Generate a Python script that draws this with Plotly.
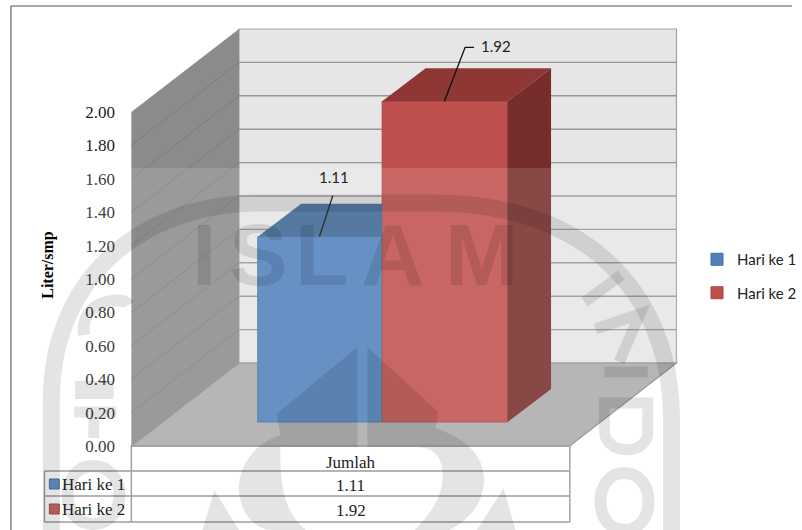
import plotly.graph_objects as go

# ---- data ----
categories = ["Jumlah"]
series_names = ["Hari ke 1", "Hari ke 2"]
hari_ke_1 = [1.11]
hari_ke_2 = [1.92]
tick_values = [0.0, 0.2, 0.4, 0.6, 0.8, 1.0, 1.2, 1.4, 1.6, 1.8, 2.0]
tick_labels = ["0.00", "0.20", "0.40", "0.60", "0.80", "1.00", "1.20", "1.40", "1.60", "1.80", "2.00"]
y_title = "Liter/smp"

# ---- geometry (pixel-scaled x axis; y axis in data units) ----
W, H = 802, 530
ZERO_PX, PX_PER_UNIT = 446, 167
def yv(p):
    return (ZERO_PX - p) / PX_PER_UNIT

SERIF = "Liberation Serif"
SANS = "Lato"
GRID = "#969696"
LINE = "#8e8e8e"
BLUE, BLUE_TOP = "#4f81bd", "#3c6694"
RED, RED_TOP, RED_SIDE = "#c0504d", "#8f3735", "#772d2b"

FRONT_L, FRONT_R = 133, 577
BACK_L, BACK_R = 242, 685
WALL_DY = 83 / PX_PER_UNIT
WALL_DX = BACK_L - FRONT_L
BAR_BASE = 24 / PX_PER_UNIT
BAR_DX, BAR_DY = 44, 33 / PX_PER_UNIT
bar_edges = [(261, 387), (387, 514)]
bar_values = [hari_ke_1[0], hari_ke_2[0]]
bar_colors = [BLUE, RED]
bar_lines = ["#44709f", "#a54744"]
top_colors = [BLUE_TOP, RED_TOP]
leaders = [((13.5, 41), None, (338, 19)), ((21, 54), 9, (502, 7))]

shapes = []
def poly(pts, fill, lw=0, lc=None, layer="below"):
    d = "M" + " L".join(f"{x},{y}" for x, y in pts) + " Z"
    shapes.append(dict(type="path", path=d, xref="x", yref="y", fillcolor=fill, layer=layer,
                       line=dict(width=lw, color=lc or fill)))
def seg(x0, y0, x1, y1, color=LINE, w=1.4, layer="below"):
    shapes.append(dict(type="line", x0=x0, y0=y0, x1=x1, y1=y1, xref="x", yref="y", layer=layer,
                       line=dict(color=color, width=w)))

# chart frame
seg(11, yv(6), W, yv(6), "#8a8a8a", 1.6)
seg(11, yv(6), 11, yv(H), "#8a8a8a", 1.6)

# 3-D box
top = tick_values[-1]
poly([(BACK_L, WALL_DY), (BACK_R, WALL_DY), (BACK_R, WALL_DY + top), (BACK_L, WALL_DY + top)], "#e6e6e6", 1.2, "#a2a2a2")
poly([(FRONT_L, 0), (BACK_L, WALL_DY), (BACK_L, WALL_DY + top), (FRONT_L, top)], "#8b8b8b")
poly([(FRONT_L, 0), (FRONT_R, 0), (BACK_R, WALL_DY), (BACK_L, WALL_DY)], "#acacac", 1.2, "#8b8b8b")
for t in tick_values[1:-1]:
    seg(BACK_L, t + WALL_DY, BACK_R, t + WALL_DY, GRID, 1.4)
    seg(FRONT_L, t, BACK_L, t + WALL_DY, "#7a7a7a", 0.8)

# data table
rows_px = [446, 471, 496, 522]
seg(FRONT_L, yv(rows_px[0]), FRONT_R, yv(rows_px[0]))
seg(FRONT_L, yv(rows_px[0]), FRONT_L, yv(rows_px[3]))
seg(FRONT_R, yv(rows_px[0]), FRONT_R, yv(rows_px[3]))
for r in rows_px[1:]:
    seg(45, yv(r), FRONT_R, yv(r))
seg(45, yv(rows_px[1]), 45, yv(rows_px[3]))

traces = []
# front faces
for i, name in enumerate(series_names):
    l, r = bar_edges[i]
    traces.append(go.Bar(x=[(l + r) / 2], y=[bar_values[i]], base=[BAR_BASE], width=[r - l], name=name,
                         legendgroup=name,
                         marker=dict(color=bar_colors[i], line=dict(color=bar_lines[i], width=1))))
# top and side faces
for i, name in enumerate(series_names):
    l, r = bar_edges[i]
    t = BAR_BASE + bar_values[i]
    limit = bar_edges[i + 1][0] if i + 1 < len(bar_edges) else r + BAR_DX
    xs = [l, l + BAR_DX, limit, min(r, limit), l]
    ys = [t, t + BAR_DY, t + BAR_DY, t, t]
    traces.append(go.Scatter(x=xs, y=ys, mode="lines", fill="toself", fillcolor=top_colors[i],
                             line=dict(width=0), showlegend=False, hoverinfo="skip"))
l, r = bar_edges[1]
t = BAR_BASE + bar_values[1]
traces.append(go.Scatter(x=[r, r + BAR_DX, r + BAR_DX, r, r],
                         y=[BAR_BASE, BAR_BASE + BAR_DY, t + BAR_DY, t, BAR_BASE],
                         mode="lines", fill="toself", fillcolor=RED_SIDE, line=dict(width=0),
                         showlegend=False, hoverinfo="skip"))

# data labels with leader lines
annotations = []
for i, (off, hook, lab) in enumerate(leaders):
    x0 = {0: 323.5, 1: 450}[i]
    t = BAR_BASE + bar_values[i]
    xs = [x0, x0 + off[0]]
    ys = [t, t + off[1] / PX_PER_UNIT]
    if hook:
        xs.append(xs[-1] + hook)
        ys.append(ys[-1])
    traces.append(go.Scatter(x=xs, y=ys, mode="lines", line=dict(color="#111111", width=1.4),
                             showlegend=False, hoverinfo="skip"))
    annotations.append(dict(x=lab[0], y=t + (off[1] + lab[1]) / PX_PER_UNIT if i == 0 else t + (off[1] + lab[1] - 6) / PX_PER_UNIT,
                            xref="x", yref="y", text=f"{bar_values[i]:.2f}", showarrow=False,
                            font=dict(family=SANS, size=15, color="#222222")))

def table_text(x, p, text):
    annotations.append(dict(x=x, y=yv(p), xref="x", yref="y", text=text, showarrow=False,
                            font=dict(family=SERIF, size=17, color="#222222")))
center = (FRONT_L + FRONT_R) / 2
table_text(355, 462, categories[0])
table_text(355, 485, f"{hari_ke_1[0]:.2f}")
table_text(355, 510, f"{hari_ke_2[0]:.2f}")
table_text(95, 484, series_names[0])
table_text(95, 509, series_names[1])
for p, c, lc in [(484, "#4f81bd", "#2f5f96"), (509, "#c0504d", "#8f3735")]:
    poly([(50, yv(p - 5)), (60, yv(p - 5)), (60, yv(p + 5)), (50, yv(p + 5))], c, 1, lc)

# ---- background watermark drawn over the page ----
WM = "rgba(0,0,0,0.105)"
shapes.append(dict(type="rect", x0=43, x1=690, y0=yv(168), y1=yv(H), xref="x", yref="y", layer="above",
                   fillcolor="rgba(255,255,255,0.13)", line=dict(width=0)))
def p2(path_pts):
    out = []
    for tok in path_pts:
        if isinstance(tok, str):
            out.append(tok)
        else:
            out.append(f"{tok[0]},{yv(tok[1])}")
    return " ".join(out)
def wm_fill(tokens):
    shapes.append(dict(type="path", path=p2(tokens), xref="x", yref="y", layer="above", fillcolor=WM, line=dict(width=0)))
def wm_stroke(tokens, w):
    shapes.append(dict(type="path", path=p2(tokens), xref="x", yref="y", layer="above",
                       fillcolor="rgba(0,0,0,0)", line=dict(color=WM, width=w)))
wm_stroke(["M", (52, H), "L", (52, 400), "C", (52, 285), (135, 205), (260, 203), "L", (440, 203),
           "C", (590, 203), (680, 290), (680, 420), "L", (680, H)], 17)
wm_fill(["M", (362, 347), "L", (280, 414), "L", (284, 435), "C", (250, 445), (235, 480), (245, 505),
         "C", (250, 520), (262, 530), (275, 530), "L", (310, 530), "C", (290, 515), (283, 490), (284, 447),
         "L", (362, 447), "Z"])
wm_fill(["M", (372, 347), "L", (444, 412), "L", (441, 428), "C", (470, 438), (492, 455), (490, 483),
         "C", (488, 505), (475, 520), (455, 530), "L", (420, 530), "C", (440, 510), (452, 490), (447, 465),
         "C", (444, 452), (435, 447), (420, 447), "L", (372, 447), "Z"])
wm_fill(["M", (510, 488), "L", (483, 530), "L", (522, 530), "Z"])
wm_fill(["M", (217, 490), "L", (205, 530), "L", (242, 530), "Z"])
wm_stroke(["M", (592, 302), "L", (629, 275)], 11)
wm_stroke(["M", (603, 329), "L", (648, 314), "L", (627, 362)], 11)
wm_stroke(["M", (612, 372), "L", (656, 372)], 11)
wm_stroke(["M", (612, 403), "L", (656, 403), "L", (656, 432), "C", (656, 456), (612, 456), (612, 430), "Z"], 11)
wm_stroke(["M", (632, 473), "C", (665, 473), (665, 530), (632, 530), "C", (600, 530), (600, 473), (632, 473), "Z"], 12)
wm_stroke(["M", (85, 335), "C", (80, 300), (125, 295), (130, 305)], 12)
wm_stroke(["M", (76, 390), "L", (115, 390)], 18)
wm_stroke(["M", (75, 412), "L", (118, 412), "M", (95, 412), "L", (95, 438)], 11)
wm_stroke(["M", (94, 466), "C", (130, 466), (130, 524), (94, 524), "C", (60, 524), (60, 466), (94, 466), "Z"], 12)
for ch, x in zip("ISLAM", [207, 262, 326, 398, 488]):
    annotations.append(dict(x=x, y=yv(254), xref="x", yref="y", text=f"<b>{ch}</b>", showarrow=False,
                            font=dict(family="Liberation Sans", size=88, color=WM)))

fig = go.Figure(traces)
fig.update_layout(
    width=W, height=H, margin=dict(l=0, r=0, t=0, b=0), paper_bgcolor="white", plot_bgcolor="white",
    barmode="overlay", hovermode=False, shapes=shapes, annotations=annotations,
    legend=dict(x=706 / W, y=yv(243) / (yv(0) - yv(H)) + (-yv(H)) / (yv(0) - yv(H)), xanchor="left", yanchor="top",
                font=dict(family=SANS, size=15, color="#222222"), tracegroupgap=11,
                bgcolor="rgba(0,0,0,0)"),
    xaxis=dict(range=[0, W], visible=False, fixedrange=True),
    yaxis=dict(range=[yv(H), yv(0)], anchor="free", position=FRONT_L / W, tickmode="array",
               tickvals=tick_values, ticktext=tick_labels, ticks="outside", ticklen=13, tickcolor="rgba(0,0,0,0)",
               showgrid=False, zeroline=False, showline=False, fixedrange=True,
               tickfont=dict(family=SERIF, size=17, color="#222222"),
               title=dict(text=f"<b>{y_title}</b>", font=dict(family=SERIF, size=16, color="#000000"), standoff=26)),
)
fig.write_html("out.html", post_script="document.body.style.margin='0';", config=dict(displayModeBar=False))
